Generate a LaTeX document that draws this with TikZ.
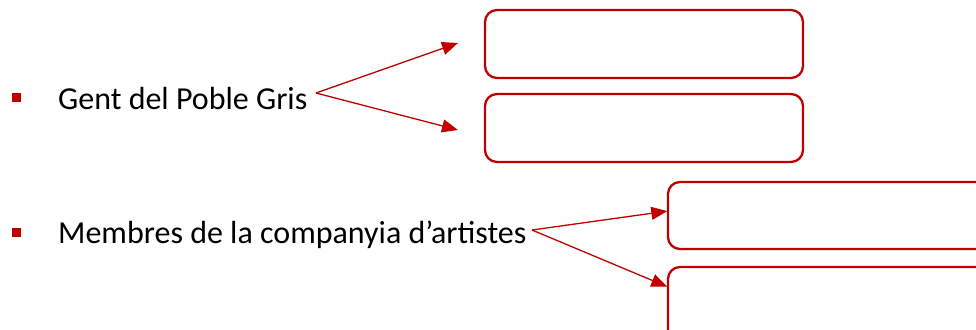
\documentclass[tikz,border=0pt]{standalone}
\usepackage{fontspec}
\setmainfont{Carlito}
\usetikzlibrary{arrows.meta}
\definecolor{dred}{HTML}{C00000}
\begin{document}
\begin{tikzpicture}[x=1pt,y=-1pt,
  bulletsq/.style={fill=dred,minimum size=9pt,inner sep=0pt},
  itemtext/.style={anchor=base west,inner sep=0pt,font=\fontsize{32}{38}\selectfont},
  rbox/.style={draw=dred,line width=2.3pt,rounded corners=12pt},
  arr/.style={draw=dred,line width=1.3pt,-{Triangle[length=16pt,width=13pt]}}]
\useasboundingbox (0,0) rectangle (976,329);
\clip (0,0) rectangle (976,329);
% bullets and texts
\node[bulletsq] (b1) at (16.5,97) {};
\node[itemtext] (t1) at (58,109) {Gent del Poble Gris};
\node[bulletsq] (b2) at (16.5,232) {};
\node[itemtext] (t2) at (58,243) {Membres de la companyia d’artistes};
% boxes
\draw[rbox] (485,10) rectangle (803,78);
\draw[rbox] (485,94) rectangle (803,162);
\draw[rbox] (668,182) rectangle (1000,249);
\draw[rbox] (668,267) rectangle (1000,360);
\node[inner sep=0pt] (box3w) at (668,211) {};
\node[inner sep=0pt] (box4w) at (668,287) {};
% arrows
\coordinate (s1) at (316,93);
\coordinate (e1a) at (458,43);
\coordinate (e1b) at (458,130);
\coordinate (s2) at (532,230);
\draw[arr] (s1) -- (e1a);
\draw[arr] (s1) -- (e1b);
\draw[arr] (s2) -- (box3w);
\draw[arr] (s2) -- (box4w);
\end{tikzpicture}
\end{document}
